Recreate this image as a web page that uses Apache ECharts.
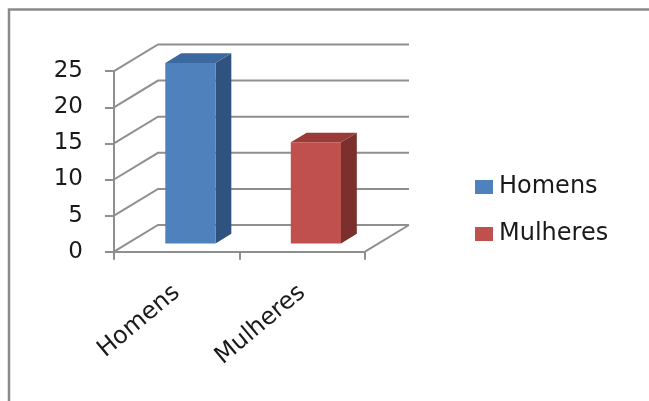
<!DOCTYPE html>
<html>
<head>
<meta charset="utf-8">
<script src="https://cdn.jsdelivr.net/npm/echarts@6/dist/echarts.min.js"></script>
<style>
html,body{margin:0;padding:0;background:#fff;overflow:hidden;}
#main{width:649px;height:401px;}
</style>
</head>
<body>
<div id="main"></div>
<script>
// ---- data ----
const categories = ['Homens', 'Mulheres'];
const values = [25, 14];
const yTicks = [0, 5, 10, 15, 20, 25];
const legendNames = ['Homens', 'Mulheres'];

// ---- style ----
const frontColors = ['#4F81BD', '#C0504D'];
const sideColors = ['#30527E', '#7C302E'];
const topColors = ['#3C68A0', '#9A3B38'];
const gridColor = '#8f8f8f';
const DX = 44, DY = -26.7;      // full depth offset of the 3D box
const F0 = 0.31, F1 = 0.67;     // bar front/back depth fractions
const FONT = 'DejaVu Sans';

const chart = echarts.init(document.getElementById('main'), null, {renderer: 'canvas'});

function renderWall(params, api) {
  const cs = params.coordSys;
  const v = api.value(1);
  const y = api.coord([0, v])[1];
  const x0 = cs.x, x1 = cs.x + cs.width;
  const children = [{
    type: 'polyline',
    shape: {points: [[x0, y], [x0 + DX, y + DY], [x1 + DX, y + DY]]},
    style: {stroke: gridColor, lineWidth: 2, fill: null}
  }];
  if (v === 0) {
    children.push({
      type: 'line',
      shape: {x1: x1, y1: y, x2: x1 + DX, y2: y + DY},
      style: {stroke: gridColor, lineWidth: 2}
    });
  }
  return {type: 'group', children};
}

function renderBar(idx) {
  return function (params, api) {
    const cat = api.value(0), v = api.value(1);
    const p = api.coord([cat, v]);
    const p0 = api.coord([cat, 0]);
    const band = api.size([1, 0])[0];
    const w = band * 0.4;
    const xl = p[0] - w / 2 + DX * F0;
    const xr = xl + w;
    const yt = p[1] + DY * F0;
    const yb = p0[1] + DY * F0;
    const ddx = DX * (F1 - F0), ddy = DY * (F1 - F0);
    return {
      type: 'group',
      children: [
        {type: 'polygon', shape: {points: [[xr, yt], [xr + ddx, yt + ddy], [xr + ddx, yb + ddy], [xr, yb]]},
         style: {fill: sideColors[idx]}},
        {type: 'polygon', shape: {points: [[xl, yt], [xr, yt], [xr + ddx, yt + ddy], [xl + ddx, yt + ddy]]},
         style: {fill: topColors[idx]}},
        {type: 'rect', shape: {x: xl, y: yt, width: w, height: yb - yt},
         style: {fill: frontColors[idx]}}
      ]
    };
  };
}

const series = [{
  type: 'custom',
  name: '_walls',
  silent: true,
  z: 1,
  data: yTicks.map(v => [0, v]),
  renderItem: renderWall
}];
categories.forEach((c, i) => {
  series.push({
    type: 'custom',
    name: legendNames[i],
    z: 3,
    itemStyle: {color: frontColors[i]},
    data: [[i, values[i]]],
    renderItem: renderBar(i)
  });
});

chart.setOption({
  animation: false,
  backgroundColor: '#fff',
  graphic: [{
    type: 'polyline',
    shape: {points: [[9, 420], [9, 9.5], [700, 9.5]]},
    style: {fill: null, stroke: '#8a8a8a', lineWidth: 2.5},
    z: 0
  }],
  grid: {left: 114, top: 71.2, right: 284, bottom: 149.3},
  xAxis: {
    type: 'category',
    data: categories,
    axisLine: {show: true, lineStyle: {color: gridColor, width: 2}},
    axisTick: {show: true, length: 8, lineStyle: {color: gridColor, width: 2}},
    axisLabel: {rotate: 40, margin: 38, fontSize: 24, fontFamily: FONT, color: '#1a1a1a'},
    splitLine: {show: false}
  },
  yAxis: {
    type: 'value',
    min: 0, max: 25, interval: 5,
    axisLine: {show: true, lineStyle: {color: gridColor, width: 2}},
    axisTick: {show: true, length: 9, lineStyle: {color: gridColor, width: 2}},
    axisLabel: {margin: 31, fontSize: 23, fontFamily: FONT, color: '#1a1a1a'},
    splitLine: {show: false}
  },
  legend: {
    orient: 'vertical',
    left: 470, top: 170,
    data: legendNames,
    icon: 'rect',
    itemWidth: 18, itemHeight: 14,
    itemGap: 23,
    textStyle: {fontSize: 24, fontFamily: FONT, color: '#1a1a1a', padding: [0, 0, 0, 1]}
  },
  series
});
</script>
</body>
</html>
